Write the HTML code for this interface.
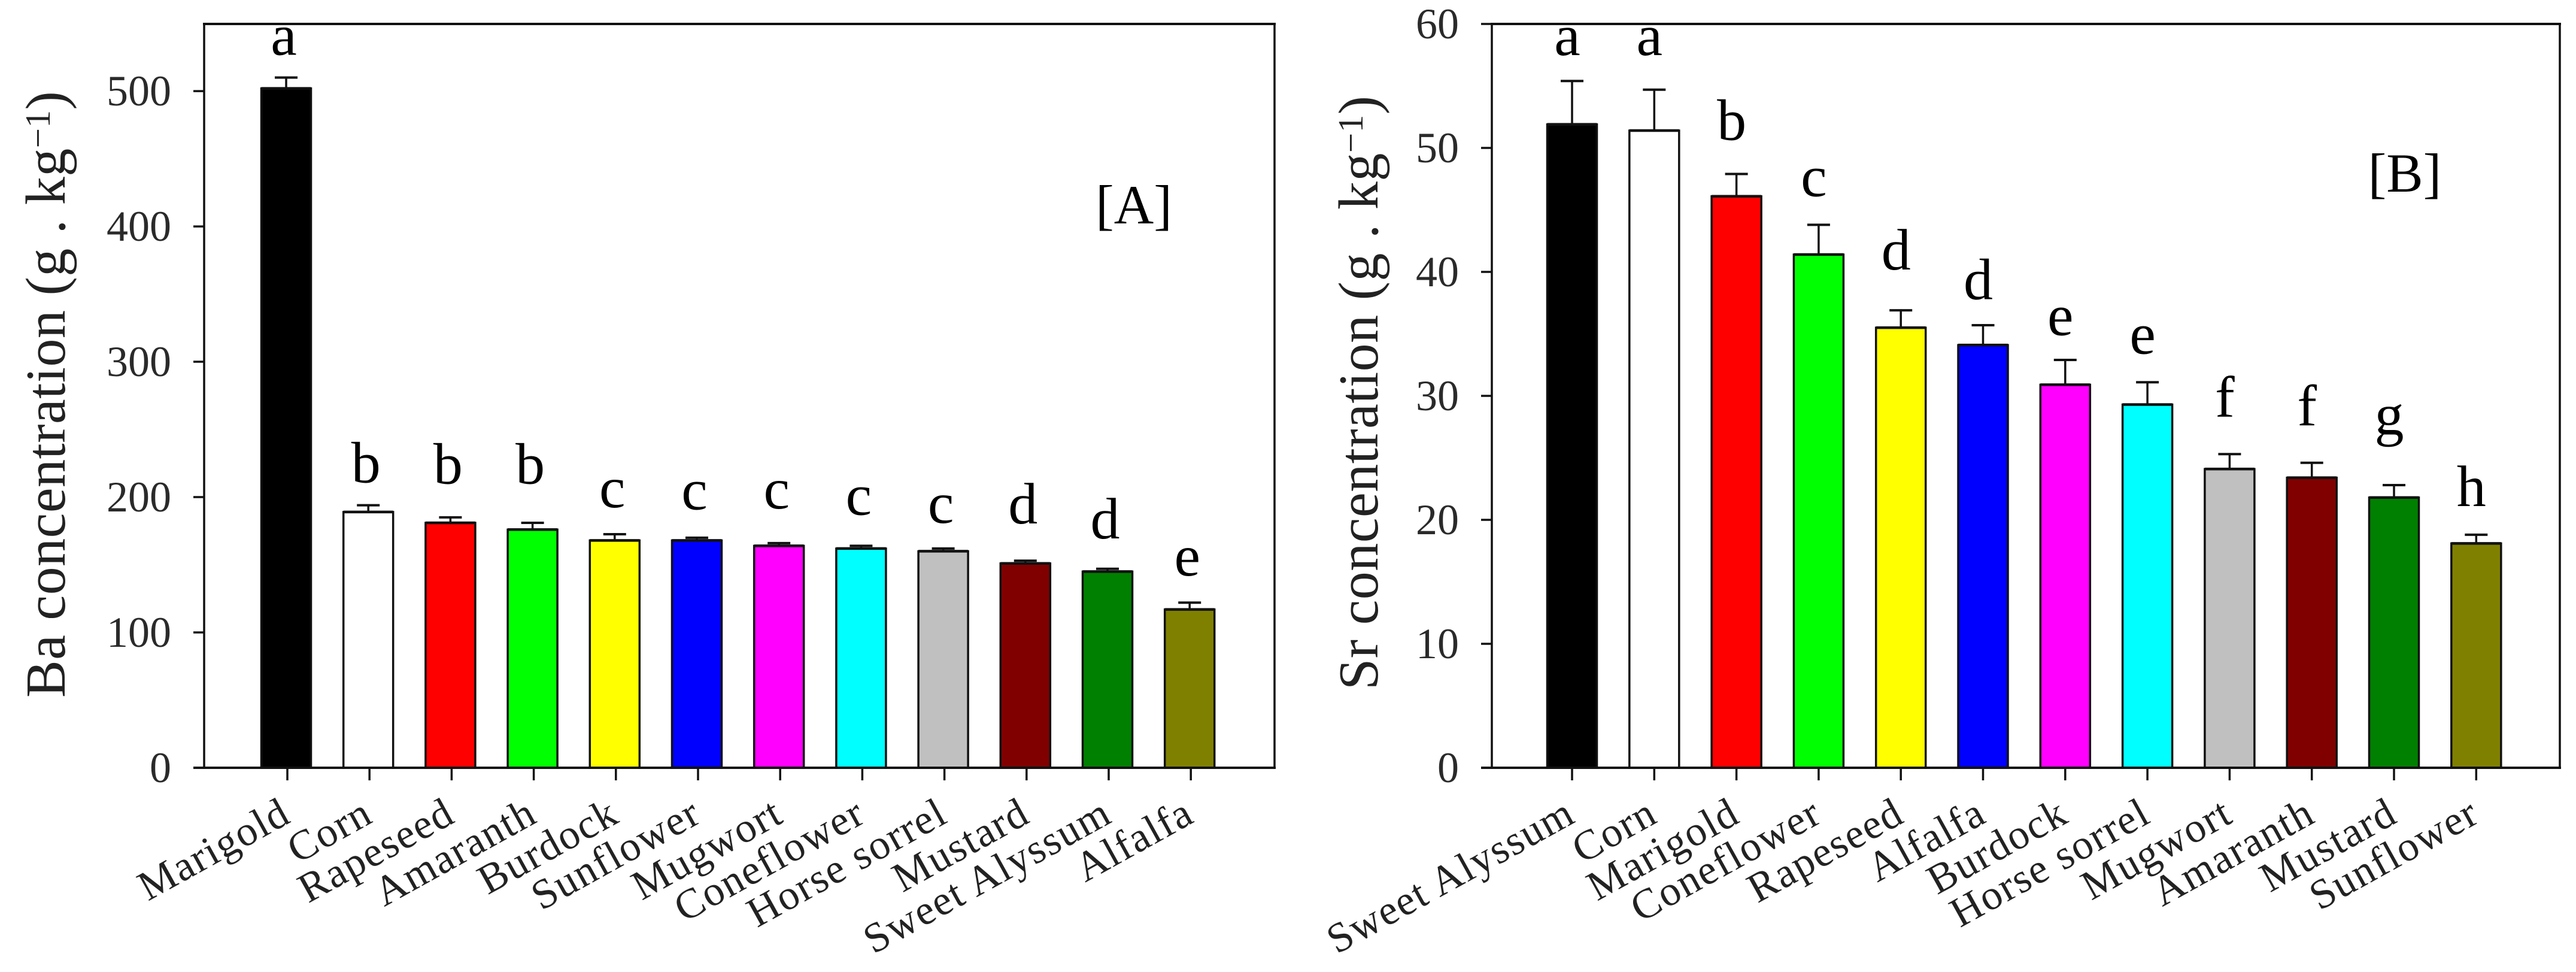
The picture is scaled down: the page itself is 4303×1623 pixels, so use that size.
<!DOCTYPE html>
<html lang="en">
<head>
<meta charset="utf-8">
<title>Ba and Sr concentration by plant species</title>
<style>
html,body{margin:0;padding:0;background:#fff;}
svg{display:block;}
text{font-family:"Liberation Serif",serif;}
</style>
</head>
<body>
<svg id="figure" xmlns="http://www.w3.org/2000/svg" width="4303" height="1623" viewBox="0 0 4303 1623"></svg>
<script>
const barColors = ['#000000','#ffffff','#ff0000','#00ff00','#ffff00','#0000ff','#ff00ff','#00ffff','#c0c0c0','#800000','#008000','#808000'];

const categoriesA = ['Marigold','Corn','Rapeseed','Amaranth','Burdock','Sunflower','Mugwort','Coneflower','Horse sorrel','Mustard','Sweet Alyssum','Alfalfa'];
const valuesA = [502,189,181,176,168,168,164,162,160,151,145,117];
const errorTopsA = [510,194,185,181,172.6,170,166,164,162,153,147,122];
const lettersA = ['a','b','b','b','c','c','c','c','c','d','d','e'];
const letterGapsA = [16.8,16.8,25,29,20,21,25.5,23,19,27.5,22.5,20];
const yTicksA = [0,100,200,300,400,500];

const categoriesB = ['Sweet Alyssum','Corn','Marigold','Coneflower','Rapeseed','Alfalfa','Burdock','Horse sorrel','Mugwort','Amaranth','Mustard','Sunflower'];
const valuesB = [51.9,51.4,46.1,41.4,35.5,34.1,30.9,29.3,24.1,23.4,21.8,18.1];
const errorTopsB = [55.4,54.7,47.9,43.8,36.9,35.7,32.9,31.1,25.3,24.6,22.8,18.8];
const lettersB = ['a','a','b','c','d','d','e','e','f','f','g','h'];
const letterGapsB = [2.1,2.8,2.75,2.3,3.3,2.1,2.0,2.3,3.0,3.0,4.1,2.3];
const yTicksB = [0,10,20,30,40,50,60];

const svg = document.getElementById('figure');
const NS = 'http://www.w3.org/2000/svg';

function make(tag, parent, attrs, content) {
  const node = document.createElementNS(NS, tag);
  for (const k in attrs) node.setAttribute(k, attrs[k]);
  if (content !== undefined) node.textContent = content;
  parent.appendChild(node);
  return node;
}

function slug(s) { return s.toLowerCase().replace(/\s+/g, '-'); }

function drawPanel(cfg) {
  const panel = make('g', svg, {});
  
  

  const yScale = v => cfg.bottom - (v / cfg.yMax) * (cfg.bottom - cfg.top);
  const xScale = i => cfg.firstTick + cfg.tickStep * i;
  const barWidth = 83;

  const leftSpine = make('line', panel, {x1:cfg.left, x2:cfg.left, y1:cfg.top, y2:cfg.bottom, stroke:'#111', 'stroke-width':3.5});
  
  
  const rightSpine = make('line', panel, {x1:cfg.right, x2:cfg.right, y1:cfg.top, y2:cfg.bottom, stroke:'#111', 'stroke-width':3.5});
  
  
  const topSpine = make('line', panel, {x1:cfg.left - 2, x2:cfg.right + 2, y1:cfg.top, y2:cfg.top, stroke:'#111', 'stroke-width':4});
  
  

  cfg.yTicks.forEach(t => {
    const y = yScale(t);
    const tick = make('line', panel, {x1:cfg.left - 18, x2:cfg.left, y1:y, y2:y, stroke:'#111', 'stroke-width':3.5});
    
    
    const label = make('text', panel, {x:cfg.left - 55, y:y + 24, 'text-anchor':'end', 'font-size':72, fill:'#2a2a2a'}, String(t));
    
    
  });

  cfg.categories.forEach((name, i) => {
    const tx = xScale(i);
    const cx = tx + cfg.barShift;
    const topV = yScale(cfg.values[i]);
    const errY = yScale(cfg.errorTops[i]);

    const stem = make('line', panel, {x1:cx, x2:cx, y1:topV, y2:errY, stroke:'#111', 'stroke-width':3.5});
    
    
    const cap = make('line', panel, {x1:cx - 19, x2:cx + 19, y1:errY, y2:errY, stroke:'#111', 'stroke-width':4});
    
    

    const bar = make('rect', panel, {x:cx - barWidth / 2, y:topV, width:barWidth, height:cfg.bottom - topV, fill:barColors[i], stroke:'#111', 'stroke-width':3.5});
    
    
    const barTop = make('line', panel, {x1:cx - barWidth / 2, x2:cx + barWidth / 2, y1:topV, y2:topV, stroke:'#111', 'stroke-width':4.5});
    
    

    const letterY = yScale(cfg.errorTops[i] + cfg.letterGaps[i]);
    const letter = make('text', panel, {x:tx + cfg.letterShift, y:letterY, 'text-anchor':'middle', 'font-size':98, fill:'#000'}, cfg.letters[i]);
    
    

    const xTick = make('line', panel, {x1:tx, x2:tx, y1:cfg.bottom, y2:cfg.bottom + 21, stroke:'#111', 'stroke-width':3.5});
    
    

    const lx = tx + 9;
    const ly = cfg.bottom + 89;
    const xLabel = make('text', panel, {x:lx, y:ly, 'text-anchor':'end', 'font-size':70, 'letter-spacing':2, fill:'#222', transform:'rotate(-29 ' + lx + ' ' + ly + ')'}, name);
    
    
  });

  const bottomAxis = make('line', panel, {x1:cfg.left - 18, x2:cfg.right + 2, y1:cfg.bottom, y2:cfg.bottom, stroke:'#111', 'stroke-width':4});
  
  

  const tx = cfg.titleX;
  const ty = cfg.titleY;
  const title = make('text', panel, {x:tx, y:ty, 'font-size':94, 'letter-spacing':0.5, fill:'#222', transform:'rotate(-90 ' + tx + ' ' + ty + ')'});
  
  
  make('tspan', title, {}, cfg.title);
  make('tspan', title, {dy:-25, 'font-size':59}, '\u22121');
  make('tspan', title, {dy:25}, ')');

  const tag = make('text', panel, {x:cfg.tagX, y:cfg.tagY, 'text-anchor':'middle', 'font-size':92, fill:'#000'}, cfg.tag);
  
  
}

drawPanel({
  id:'a', left:341, right:2129, top:40, bottom:1282, yMax:549.6, firstTick:480, tickStep:137.2, barShift:-2,
  categories:categoriesA, values:valuesA, errorTops:errorTopsA, letters:lettersA, letterGaps:letterGapsA, yTicks:yTicksA,
  letterShift:-6, title:'Ba concentration (g . kg', titleX:108, titleY:1165, tag:'[A]', tagX:1894, tagY:373
});

drawPanel({
  id:'b', left:2492, right:4276, top:40, bottom:1282, yMax:60, firstTick:2626, tickStep:137.3, barShift:0,
  categories:categoriesB, values:valuesB, errorTops:errorTopsB, letters:lettersB, letterGaps:letterGapsB, yTicks:yTicksB,
  letterShift:-8, title:'Sr concentration (g . kg', titleX:2301, titleY:1152, tag:'[B]', tagX:4017, tagY:320
});
</script>
</body>
</html>
